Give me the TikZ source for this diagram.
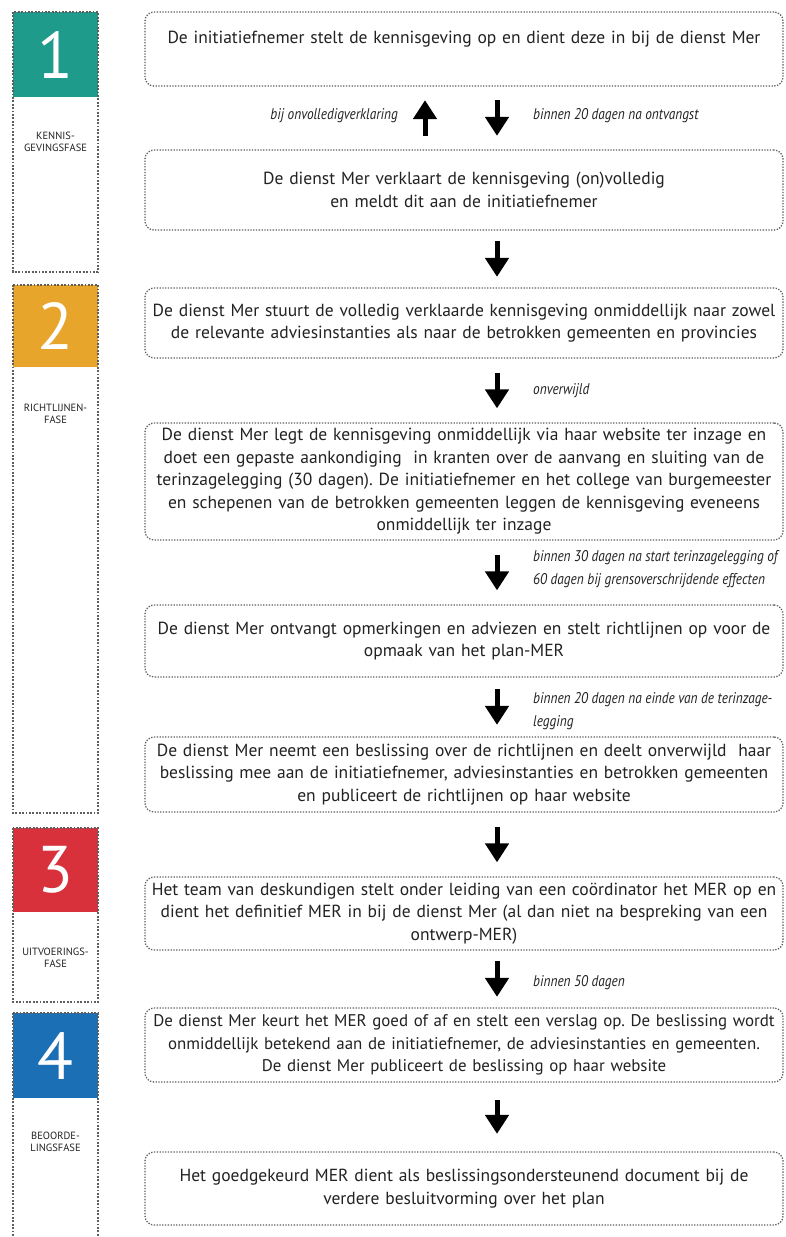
\documentclass[tikz,border=0pt]{standalone}
\usepackage{fontspec}
\setmainfont{PT Sans}
\newfontfamily\condit[FakeStretch=0.86]{PT Sans Italic}
\usetikzlibrary{arrows.meta}
\frenchspacing
\definecolor{txt}{HTML}{222222}
\definecolor{pteal}{HTML}{1E9B8B}
\definecolor{porange}{HTML}{E8A52B}
\definecolor{pred}{HTML}{D8313C}
\definecolor{pblue}{HTML}{1B6FB4}
\definecolor{bordergray}{HTML}{5E5E5E}
\begin{document}
\begin{tikzpicture}[x=1pt,y=-1pt,
  stepbox/.style={draw=bordergray, line width=1.3pt, dash pattern=on 1.3pt off 1.5pt,
    rounded corners=9pt, minimum width=638pt, text width=638pt, align=center,
    inner sep=0pt, text=txt, font=\frenchspacing\fontsize{17.5}{22.5}\selectfont},
  phaseframe/.style={draw=bordergray, line width=1.2pt, dash pattern=on 1.8pt off 1.6pt},
  phasenum/.style={text=white, font=\fontsize{66}{66}\selectfont, inner sep=0pt},
  phaselabel/.style={text=txt, font=\fontsize{10.5}{12.5}\selectfont, align=center, inner sep=0pt},
  cond/.style={text=txt, font=\condit\fontsize{15.5}{23}\selectfont, align=left, inner sep=0pt},
  bigarrow/.style={line width=5pt, -{Triangle[width=23pt,length=19pt]}, shorten <=#1, shorten >=#1},
]
\useasboundingbox (0,0) rectangle (785,1237);
\fill[white] (0,0) rectangle (785,1237);

% phase columns
\fill[pteal] (13,12) rectangle (98,97);
\draw[phaseframe] (13,12) rectangle (98,272);
\node[phasenum] (n1) at (55.5,55) {1};
\node[phaselabel] (l1) at (55.5,142) {KENNIS-\\GEVINGSFASE};

\fill[porange] (13,285) rectangle (98,367);
\draw[phaseframe] (13,285) rectangle (98,813);
\node[phasenum] (n2) at (55.5,326) {2};
\node[phaselabel] (l2) at (55.5,414) {RICHTLIJNEN-\\FASE};

\fill[pred] (13,828) rectangle (98,912);
\draw[phaseframe] (13,828) rectangle (98,1002);
\node[phasenum] (n3) at (55.5,870) {3};
\node[phaselabel] (l3) at (55.5,958) {UITVOERINGS-\\FASE};

\fill[pblue] (13,1013) rectangle (98,1098);
\draw[phaseframe] (13,1013) rectangle (98,1245);
\node[phasenum] (n4) at (55.5,1056) {4};
\node[phaselabel] (l4) at (55.5,1142) {BEOORDE-\\LINGSFASE};

% step boxes
\node[stepbox, minimum height=74pt] (b1) at (464,49)
  {De initiatiefnemer stelt de kennisgeving op en dient deze in bij de dienst Mer\\ \mbox{}};
\node[stepbox, minimum height=80pt] (b2) at (464,190)
  {De dienst Mer verklaart de kennisgeving (on)volledig\\en meldt dit aan de initiatiefnemer};
\node[stepbox, minimum height=70pt] (b3) at (464,323)
  {De dienst Mer stuurt de volledig verklaarde kennisgeving onmiddellijk naar zowel\\de relevante adviesinstanties als naar de betrokken gemeenten en provincies};
\node[stepbox, minimum height=117pt] (b4) at (464,481.5)
  {De dienst Mer legt de kennisgeving onmiddellijk via haar website ter inzage en\\doet een gepaste aankondiging\ \ in kranten over de aanvang en sluiting van de\\terinzagelegging (30 dagen). De initiatiefnemer en het college van burgemeester\\en schepenen van de betrokken gemeenten leggen de kennisgeving eveneens\\onmiddellijk ter inzage};
\node[stepbox, minimum height=72pt] (b5) at (464,641)
  {De dienst Mer ontvangt opmerkingen en adviezen en stelt richtlijnen op voor de\\opmaak van het plan-MER};
\node[stepbox, minimum height=75pt] (b6) at (464,774.5)
  {De dienst Mer neemt een beslissing over de richtlijnen en deelt onverwijld\ \ haar\\beslissing mee aan de initiatiefnemer, adviesinstanties en betrokken gemeenten\\en publiceert de richtlijnen op haar website};
\node[stepbox, minimum height=73pt] (b7) at (464,913.5)
  {Het team van deskundigen stelt onder leiding van een coördinator het MER op en\\dient het definitief MER in bij de dienst Mer (al dan niet na bespreking van een\\ontwerp-MER)};
\node[stepbox, minimum height=74pt, font=\frenchspacing\fontsize{16.9}{22.5}\selectfont] (b8) at (464,1045)
  {De dienst Mer keurt het MER goed of af en stelt een verslag op. De beslissing wordt\\onmiddellijk betekend aan de initiatiefnemer, de adviesinstanties en gemeenten.\\De dienst Mer publiceert de beslissing op haar website};
\node[stepbox, minimum height=73pt] (b9) at (464,1188.5)
  {Het goedgekeurd MER dient als beslissingsondersteunend document bij de\\verdere besluitvorming over het plan};

% arrow axes
\coordinate (ax) at (497,0);
\coordinate (ux) at (425,0);

\draw[bigarrow=13.5pt] (b1.south -| ax) -- (b2.north -| ax);
\draw[bigarrow=13.5pt] (b2.north -| ux) -- (b1.south -| ux);
\draw[bigarrow=10.5pt] (b2.south -| ax) -- (b3.north -| ax);
\draw[bigarrow=14pt] (b3.south -| ax) -- (b4.north -| ax);
\draw[bigarrow=14pt] (b4.south -| ax) -- (b5.north -| ax);
\draw[bigarrow=11.5pt] (b5.south -| ax) -- (b6.north -| ax);
\draw[bigarrow=14pt] (b6.south -| ax) -- (b7.north -| ax);
\draw[bigarrow=10.5pt] (b7.south -| ax) -- (b8.north -| ax);
\draw[bigarrow=17.5pt] (b8.south -| ax) -- (b9.north -| ax);

% arrow labels
\node[cond, anchor=east] (c0) at (398,116) {bij onvolledigverklaring};
\node[cond, anchor=west] (c1) at (533,116) {binnen 20 dagen na ontvangst};
\node[cond, anchor=west] (c2) at (533,391) {onverwijld};
\node[cond, anchor=west] (c3) at (533,569) {binnen 30 dagen na start terinzagelegging of\\60 dagen bij grensoverschrijdende effecten};
\node[cond, anchor=west] (c4) at (533,711) {binnen 20 dagen na einde van de terinzage-\\legging};
\node[cond, anchor=west] (c5) at (533,983) {binnen 50 dagen};
\end{tikzpicture}
\end{document}
